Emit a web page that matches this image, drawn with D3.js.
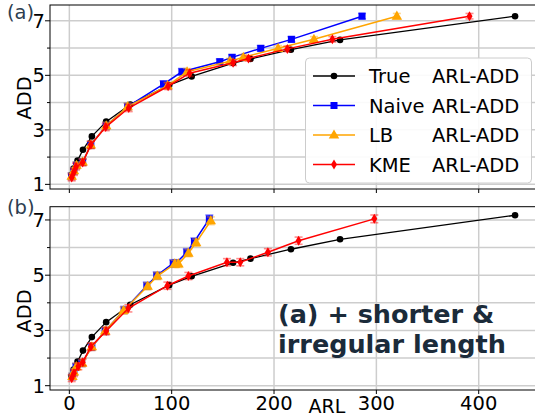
<!DOCTYPE html>
<html>
<head>
<meta charset="utf-8">
<script src="https://cdn.jsdelivr.net/npm/d3@7"></script>
<style>
  body { margin: 0; background: #fff; }
  svg { font-family: "DejaVu Sans", sans-serif; display: block; }
</style>
</head>
<body>
<svg id="chart" width="535" height="417"></svg>
<script>
// true curve (same in both panels)
const trueARL = [2.2, 4.2, 8, 13.3, 22, 36, 59.5, 97.5, 119.5, 160, 177, 216.5, 264.5, 435.5];
const trueADD = [1.35, 1.58, 1.87, 2.27, 2.76, 3.3, 3.93, 4.64, 4.96, 5.45, 5.6, 5.94, 6.3, 7.17];

// panel (a)
const naiveARL_a = [2.2, 4.5, 7, 13, 21, 36, 57, 92, 110, 147, 159, 187, 217, 286];
const naiveADD_a = [1.3, 1.5, 1.7, 1.82, 2.45, 3.15, 3.85, 4.68, 5.13, 5.5, 5.66, 5.99, 6.32, 7.17];
const lbARL_a = [2.3, 4.5, 7, 13, 21, 36, 57, 96, 115, 157, 170, 204, 239, 320];
const lbADD_a = [1.3, 1.5, 1.7, 1.82, 2.45, 3.15, 3.85, 4.62, 5.13, 5.52, 5.66, 5.99, 6.32, 7.17];
const kmeARL_a = [2.3, 4.5, 6.5, 13, 21, 35.5, 58, 96.5, 117.5, 160, 175, 213, 257, 391];
const kmeADD_a = [1.25, 1.45, 1.65, 1.8, 2.45, 3.1, 3.8, 4.6, 5.08, 5.46, 5.62, 5.97, 6.32, 7.17];
const err_a = [0.12, 0.12, 0.12, 0.12, 0.13, 0.13, 0.13, 0.12, 0.12, 0.1, 0.1, 0.1, 0.1, 0.1];

// panel (b)
const naiveARL_b = [3.0, 4.5, 6.5, 12, 22, 35, 53.5, 75.7, 85.4, 101.5, 104, 114.8, 122.2, 136.8];
const naiveADD_b = [1.33, 1.5, 1.69, 1.81, 2.41, 2.98, 3.74, 4.62, 4.99, 5.43, 5.43, 5.83, 6.22, 7.04];
const lbARL_b = [3.0, 4.5, 6.8, 12.5, 22, 35, 53, 76.5, 86, 103, 106.6, 116.3, 123.9, 138.2];
const lbADD_b = [1.33, 1.5, 1.69, 1.81, 2.41, 2.98, 3.72, 4.6, 4.97, 5.41, 5.41, 5.8, 6.18, 6.97];
const kmeARL_b = [2.3, 4.5, 8.8, 13.1, 21, 36, 57.7, 95.8, 116.3, 154, 167, 194, 224, 298];
const kmeADD_b = [1.27, 1.45, 1.7, 1.85, 2.41, 2.98, 3.8, 4.62, 4.97, 5.47, 5.47, 5.83, 6.25, 7.04];
const err_b = [0.12, 0.12, 0.12, 0.12, 0.13, 0.13, 0.13, 0.13, 0.13, 0.13, 0.13, 0.13, 0.13, 0.14];

const xTicks = [0, 100, 200, 300, 400];
const yTicks = [1, 3, 5, 7];
const yMinor = [2, 4, 6];
const legendNames = ["True", "Naive", "LB", "KME"];

const colors = { True: "#000000", Naive: "#0000ff", LB: "#ffa500", KME: "#ff0000" };

const svg = d3.select("#chart");
const x = d3.scaleLinear().domain([-18.9, 455]).range([50, 535]);

const panels = [
  { label: "(a)", labelY: 19, y: d3.scaleLinear().domain([0.83, 7.58]).range([189, 5]),
    addY: 98, xLabels: false,
    series: [
      { name: "True", arl: trueARL, add: trueADD },
      { name: "Naive", arl: naiveARL_a, add: naiveADD_a, err: err_a },
      { name: "LB", arl: lbARL_a, add: lbADD_a, err: err_a },
      { name: "KME", arl: kmeARL_a, add: kmeADD_a, err: err_a }
    ] },
  { label: "(b)", labelY: 214, y: d3.scaleLinear().domain([0.844, 7.48]).range([390, 206.7]),
    addY: 311, xLabels: true,
    series: [
      { name: "True", arl: trueARL, add: trueADD },
      { name: "Naive", arl: naiveARL_b, add: naiveADD_b, err: err_b },
      { name: "LB", arl: lbARL_b, add: lbADD_b, err: err_b },
      { name: "KME", arl: kmeARL_b, add: kmeADD_b, err: err_b }
    ] }
];

function drawMarker(g, name, cx, cy) {
  const c = colors[name];
  if (name === "True") {
    g.append("circle").attr("cx", cx).attr("cy", cy).attr("r", 3.3).attr("fill", c);
  } else if (name === "Naive") {
    g.append("rect").attr("x", cx - 3.5).attr("y", cy - 3.5).attr("width", 7).attr("height", 7).attr("fill", c);
  } else if (name === "LB") {
    g.append("path").attr("d", d3.symbol(d3.symbolTriangle, 48)()).attr("transform", `translate(${cx},${cy + 0.5})`).attr("fill", c);
  } else {
    g.append("path").attr("d", `M0,-5L3,0L0,5L-3,0Z`).attr("transform", `translate(${cx},${cy})`).attr("fill", c);
  }
}

panels.forEach(p => {
  const y = p.y;
  const [y0, y1] = y.range();
  const g = svg.append("g");

  // grid
  g.selectAll(".gx").data(xTicks).join("line")
    .attr("x1", d => x(d)).attr("x2", d => x(d)).attr("y1", y1).attr("y2", y0)
    .attr("stroke", "#cdcdcd").attr("stroke-width", 1.5);
  g.selectAll(".gy").data(yTicks.concat(yMinor)).join("line")
    .attr("x1", 50).attr("x2", 535).attr("y1", d => y(d)).attr("y2", d => y(d))
    .attr("stroke", "#cdcdcd").attr("stroke-width", 1.5);

  // series
  p.series.forEach(s => {
    const pts = s.arl.map((a, i) => [a, s.add[i], s.err ? s.err[i] : 0]);
    const c = colors[s.name];
    if (s.err) {
      const eb = g.append("g").attr("stroke", c).attr("stroke-opacity", 0.45).attr("stroke-width", 1.6);
      pts.forEach(d => {
        const px = x(d[0]);
        eb.append("line").attr("x1", px).attr("x2", px).attr("y1", y(d[1] - d[2])).attr("y2", y(d[1] + d[2]));
        eb.append("line").attr("x1", px - 4).attr("x2", px + 4).attr("y1", y(d[1] - d[2])).attr("y2", y(d[1] - d[2]));
        eb.append("line").attr("x1", px - 4).attr("x2", px + 4).attr("y1", y(d[1] + d[2])).attr("y2", y(d[1] + d[2]));
      });
    }
    g.append("path").datum(pts)
      .attr("d", d3.line().x(d => x(d[0])).y(d => y(d[1])))
      .attr("fill", "none").attr("stroke", c).attr("stroke-width", s.name === "True" ? 1.3 : 1.5);
    pts.forEach(d => drawMarker(g, s.name, x(d[0]), y(d[1])));
  });

  // frame
  g.append("rect").attr("x", 50).attr("y", y1).attr("width", 486).attr("height", y0 - y1)
    .attr("fill", "none").attr("stroke", "#000").attr("stroke-width", 1);

  // y ticks
  g.selectAll(".ty").data(yTicks).join("line")
    .attr("x1", 45).attr("x2", 50).attr("y1", d => y(d)).attr("y2", d => y(d)).attr("stroke", "#000");
  g.selectAll(".tym").data(yMinor).join("line")
    .attr("x1", 47).attr("x2", 50).attr("y1", d => y(d)).attr("y2", d => y(d)).attr("stroke", "#000");
  g.selectAll(".ly").data(yTicks).join("text")
    .attr("x", 45).attr("y", d => y(d)).attr("dy", "0.36em")
    .attr("text-anchor", "end").attr("font-size", 19.5).text(d => d);

  // x ticks
  g.selectAll(".tx").data(xTicks).join("line")
    .attr("x1", d => x(d)).attr("x2", d => x(d)).attr("y1", y0).attr("y2", y0 + 4).attr("stroke", "#000");
  if (p.xLabels) {
    g.selectAll(".lx").data(xTicks).join("text")
      .attr("x", d => x(d)).attr("y", 410)
      .attr("text-anchor", "middle").attr("font-size", 19.5).text(d => d);
  }

  // labels
  g.append("text").attr("transform", `translate(30.5,${p.addY}) rotate(-90)`)
    .attr("text-anchor", "middle").attr("font-size", 19.5).text("ADD");
  g.append("text").attr("x", 7).attr("y", p.labelY).attr("font-size", 19.5)
    .attr("fill", "#2c3e50").text(p.label);
});

svg.append("text").attr("x", 327).attr("y", 413).attr("text-anchor", "middle")
  .attr("font-size", 19).text("ARL");

// legend
const lg = svg.append("g");
lg.append("rect").attr("x", 305.5).attr("y", 58).attr("width", 226).attr("height", 125)
  .attr("rx", 4).attr("fill", "#fff").attr("fill-opacity", 0.9).attr("stroke", "#cccccc");
legendNames.forEach((n, i) => {
  const cy = 76 + i * 29.5;
  lg.append("line").attr("x1", 313).attr("x2", 355).attr("y1", cy).attr("y2", cy)
    .attr("stroke", colors[n]).attr("stroke-width", 1.6);
  drawMarker(lg, n, 334, cy);
  lg.append("text").attr("x", 369).attr("y", cy + 7).attr("font-size", 19.5).text(n);
  lg.append("text").attr("x", 432).attr("y", cy + 7).attr("font-size", 19.5).text("ARL-ADD");
});

// annotation
svg.append("text").attr("x", 278).attr("y", 323).attr("font-size", 25.5).attr("font-weight", "bold")
  .attr("fill", "#1b2b3a").text("(a) + shorter &");
svg.append("text").attr("x", 278).attr("y", 353).attr("font-size", 25.5).attr("font-weight", "bold")
  .attr("fill", "#1b2b3a").text("irregular length");
</script>
</body>
</html>
